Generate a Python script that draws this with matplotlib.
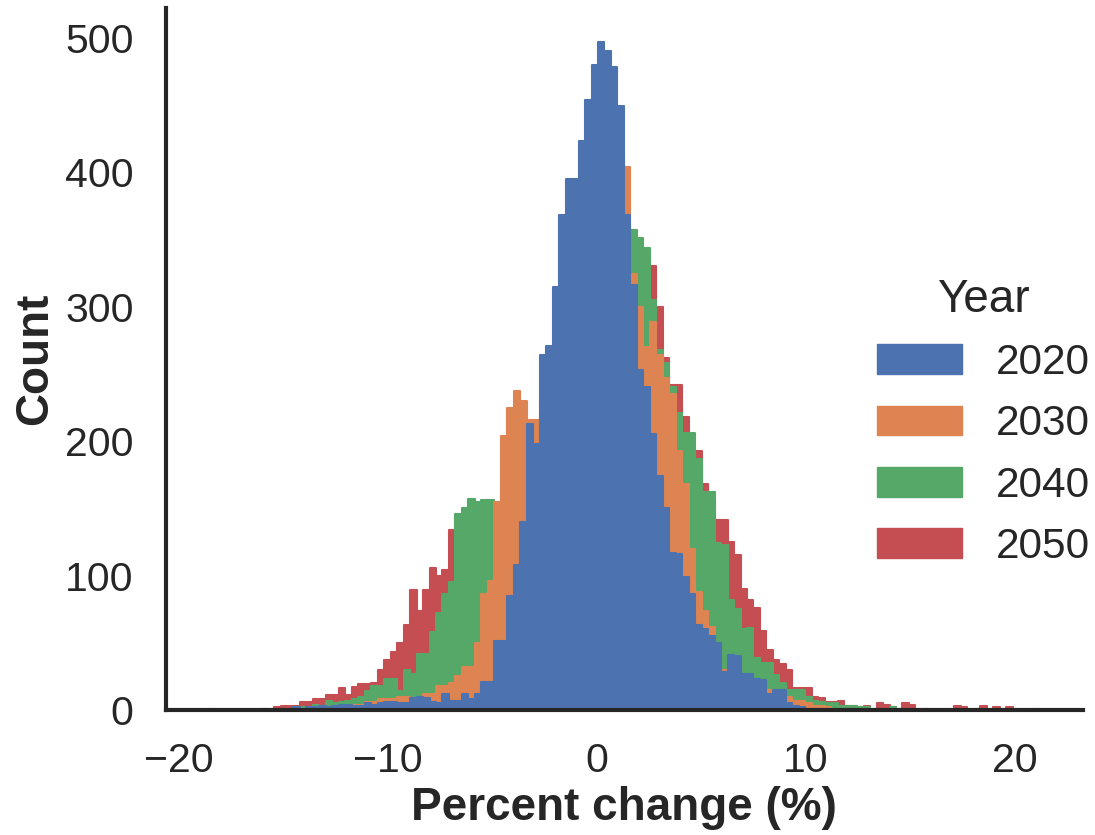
import numpy as np
import matplotlib
matplotlib.use("Agg")
import matplotlib.pyplot as plt
from matplotlib.patches import Patch

# ---------------- data ----------------
years = ["2020", "2030", "2040", "2050"]
bin_start = -18.555     # left edge of first bin (percent change)
bin_width = 0.31        # bin width (percent change)

counts_2020 = [
    0, 0, 0, 0, 0, 0, 0, 0, 0, 0, 0, 1, 1, 2, 1, 2,
    2, 3, 2, 3, 4, 4, 3, 3, 5, 4, 5, 6, 6, 5, 5, 9,
    10, 9, 6, 5, 12, 7, 7, 12, 8, 12, 21, 21, 51, 51, 85, 108,
    140, 213, 198, 264, 271, 315, 368, 395, 395, 423, 454, 480, 497, 490, 478, 449,
    368, 316, 253, 240, 205, 174, 150, 117, 116, 99, 86, 63, 60, 55, 50, 28,
    41, 40, 27, 27, 23, 22, 12, 15, 15, 5, 3, 2, 1, 1, 0, 0,
    0, 0, 0, 0, 0, 0, 0, 0, 0, 0, 0, 0, 0, 0, 0, 0,
    0, 0, 0, 0, 0, 0, 0, 0, 0, 0, 0, 0, 0, 0, 0, 0,
]
counts_2030 = [
    0, 0, 0, 0, 0, 0, 0, 0, 0, 0, 0, 0, 0, 0, 1, 1,
    2, 2, 2, 2, 2, 3, 4, 4, 6, 6, 8, 8, 8, 10, 10, 8,
    8, 12, 12, 18, 18, 20, 25, 32, 32, 50, 86, 96, 155, 204, 225, 237,
    230, 216, 216, 230, 250, 270, 290, 310, 330, 350, 370, 385, 395, 400, 405, 410,
    404, 324, 300, 270, 289, 264, 247, 235, 193, 168, 120, 88, 74, 62, 46, 30,
    35, 35, 25, 24, 23, 18, 15, 12, 10, 10, 7, 7, 5, 3, 3, 2,
    1, 1, 1, 0, 0, 0, 0, 0, 0, 0, 0, 0, 0, 0, 0, 0,
    0, 0, 0, 0, 0, 0, 0, 0, 0, 0, 0, 0, 0, 0, 0, 0,
]
counts_2040 = [
    1, 0, 0, 0, 0, 0, 0, 0, 1, 0, 0, 1, 1, 1, 2, 2,
    4, 3, 7, 5, 6, 7, 8, 10, 14, 18, 18, 23, 23, 14, 30, 27,
    42, 42, 58, 72, 86, 95, 146, 150, 157, 155, 156, 156, 150, 160, 170, 180,
    190, 200, 210, 220, 240, 260, 280, 300, 310, 320, 330, 340, 350, 355, 360, 360,
    360, 357, 351, 344, 305, 268, 258, 240, 221, 206, 206, 187, 162, 162, 124, 123,
    82, 75, 60, 61, 39, 35, 35, 26, 20, 15, 15, 15, 10, 7, 6, 5,
    5, 3, 3, 3, 2, 2, 1, 1, 0, 2, 1, 1, 0, 0, 0, 0,
    0, 0, 0, 0, 0, 0, 0, 0, 0, 0, 0, 0, 0, 0, 0, 1,
]
counts_2050 = [
    0, 0, 0, 0, 0, 0, 0, 0, 0, 0, 2, 3, 3, 3, 6, 6,
    8, 8, 11, 11, 16, 11, 17, 19, 19, 20, 30, 37, 43, 50, 63, 89,
    74, 89, 106, 100, 104, 134, 140, 145, 150, 150, 150, 150, 150, 155, 160, 170,
    180, 190, 200, 210, 230, 250, 270, 290, 300, 310, 320, 325, 330, 335, 335, 335,
    335, 335, 335, 335, 330, 300, 262, 242, 242, 218, 193, 193, 168, 155, 141, 141,
    125, 115, 90, 82, 76, 59, 45, 37, 34, 30, 16, 16, 16, 10, 9, 6,
    6, 7, 3, 3, 2, 3, 1, 5, 4, 2, 1, 5, 4, 0, 1, 0,
    0, 0, 0, 3, 2, 0, 1, 3, 0, 2, 0, 2, 0, 0, 0, 0,
]
x_ticks = [-20, -10, 0, 10, 20]
y_ticks = [0, 100, 200, 300, 400, 500]

# ---------------- style ----------------
plt.rcParams['font.family'] = ['Liberation Sans', 'DejaVu Sans']
ink = '#262626'
palette = ["#4C72B0", "#DD8452", "#55A868", "#C44E52"]

fig = plt.figure(figsize=(10.95, 8.35), dpi=100)
ax = fig.add_axes([0.1513, 0.1497, 0.989 - 0.1513, 0.990 - 0.1497])

series = [counts_2020, counts_2030, counts_2040, counts_2050]
n_bins = len(counts_2020)
edges = bin_start + bin_width * np.arange(n_bins + 1)

# draw back-to-front so 2020 ends up on top
for year, color, counts in reversed(list(zip(years, palette, series))):
    p = ax.stairs(np.asarray(counts, dtype=float), edges, fill=True,
                  facecolor=color, edgecolor=color, linewidth=1.5)
    p.set_joinstyle('round')

ax.set_xlim(-20.64, 23.25)
ax.set_ylim(0, 522)
ax.set_xticks(x_ticks)
ax.set_yticks(y_ticks)

for side in ['top', 'right']:
    ax.spines[side].set_visible(False)
for side in ['left', 'bottom']:
    ax.spines[side].set_linewidth(3.0)
    ax.spines[side].set_color(ink)

ax.tick_params(axis='both', length=0, labelsize=29.5, colors=ink, pad=23)

ax.set_xlabel("Percent change (%)", fontsize=33, fontweight='bold', color=ink, labelpad=4)
ax.set_ylabel("Count", fontsize=33, fontweight='bold', color=ink, labelpad=6)

handles = [Patch(facecolor=c, edgecolor=c) for c in palette]
leg = ax.legend(handles, years, title="Year", loc='center right',
                bbox_to_anchor=(1.0077, 0.41), borderaxespad=0, borderpad=0,
                frameon=False, fontsize=30.5, title_fontsize=33)
for t in leg.get_texts():
    t.set_color(ink)
leg.get_title().set_color(ink)

fig.savefig("out.png", dpi=100)
